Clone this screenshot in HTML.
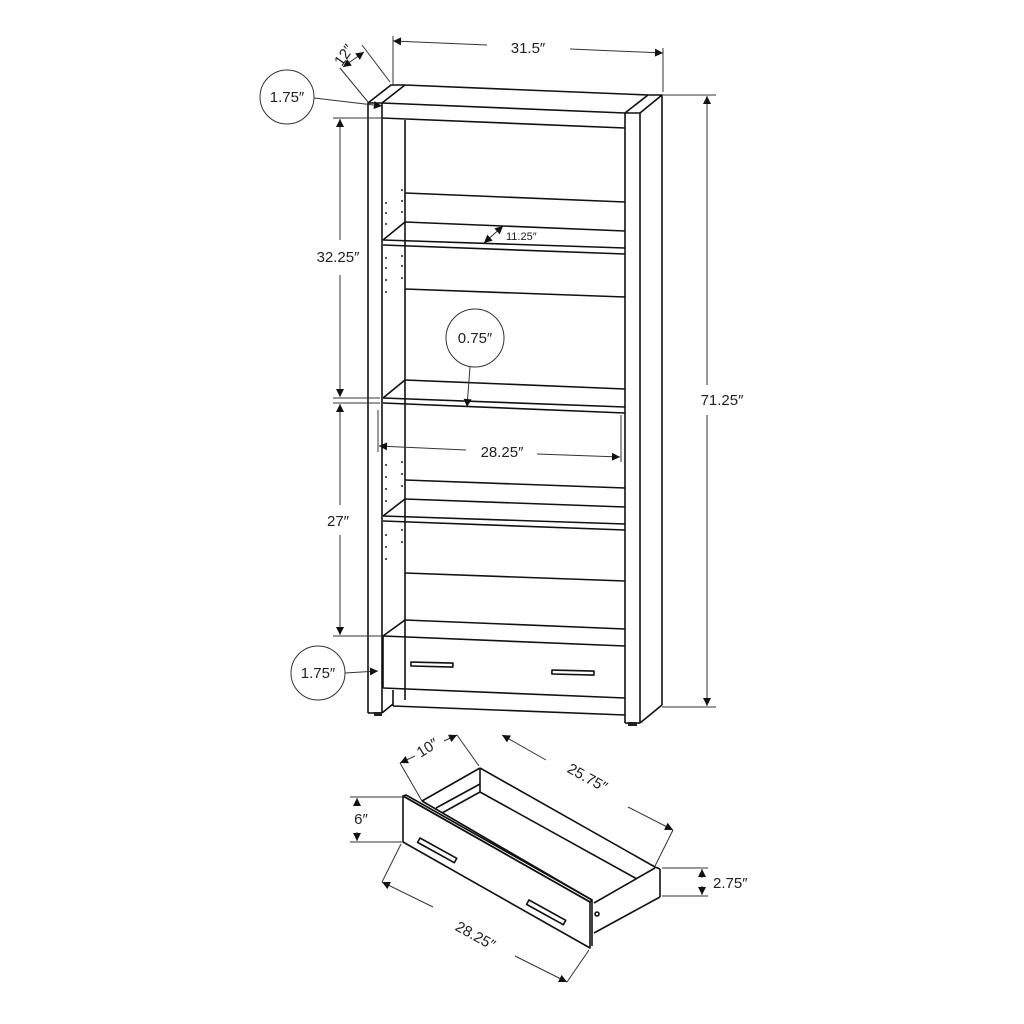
<!DOCTYPE html>
<html><head><meta charset="utf-8"><style>
html,body{margin:0;padding:0;background:#fff;}
svg{display:block;}
text{font-family:"Liberation Sans",sans-serif;fill:#222;}
</style></head><body>
<svg width="1024" height="1024" viewBox="0 0 1024 1024" xmlns="http://www.w3.org/2000/svg">
<defs>
<marker id="a" viewBox="0 0 10 10" refX="10" refY="5" markerWidth="10" markerHeight="8" orient="auto-start-reverse" markerUnits="userSpaceOnUse"><path d="M0,0 L10,5 L0,10 z" fill="#111"/></marker>
</defs>
<g fill="none" stroke="#111" stroke-width="1.6" stroke-linejoin="round">
<!-- left panel -->
<polygon points="368,103 391,85 405,85 382,103" />
<line x1="368" y1="103" x2="368" y2="713"/>
<line x1="382" y1="103" x2="382" y2="713"/>
<line x1="368" y1="713" x2="382" y2="713"/>
<line x1="393" y1="704" x2="382" y2="713"/>
<!-- top -->
<line x1="405" y1="85" x2="648" y2="95"/>
<line x1="382" y1="103" x2="625" y2="113"/>
<line x1="382" y1="118" x2="625" y2="128"/>
<line x1="405" y1="120" x2="405" y2="700"/>
<!-- right panel -->
<polygon points="625,113 648,95 662,95 640,113"/>
<line x1="625" y1="113" x2="625" y2="723"/>
<line x1="640" y1="113" x2="640" y2="723"/>
<line x1="662" y1="95" x2="662" y2="705"/>
<line x1="625" y1="723" x2="640" y2="723"/>
<line x1="640" y1="723" x2="662" y2="705"/>
<!-- shelf 1 -->
<line x1="405" y1="193" x2="625" y2="202"/>
<line x1="405" y1="222" x2="625" y2="231"/>
<line x1="405" y1="222" x2="383" y2="240"/>
<line x1="383" y1="240" x2="625" y2="248"/>
<line x1="383" y1="245" x2="625" y2="254"/>
<!-- shelf 2 -->
<line x1="405" y1="289" x2="625" y2="297"/>
<line x1="405" y1="380" x2="625" y2="389"/>
<line x1="405" y1="380" x2="383" y2="398"/>
<line x1="383" y1="398" x2="625" y2="407"/>
<line x1="383" y1="403" x2="625" y2="413"/>
<!-- shelf 3 -->
<line x1="405" y1="480" x2="625" y2="488"/>
<line x1="405" y1="499" x2="625" y2="507"/>
<line x1="405" y1="499" x2="383" y2="516"/>
<line x1="383" y1="516" x2="625" y2="524"/>
<line x1="383" y1="521" x2="625" y2="530"/>
<line x1="405" y1="573" x2="625" y2="581"/>
<!-- bottom shelf / drawer -->
<line x1="405" y1="620" x2="625" y2="629"/>
<line x1="405" y1="620" x2="383" y2="636"/>
<line x1="383" y1="636" x2="625" y2="646"/>
<line x1="383" y1="636" x2="383" y2="688"/>
<line x1="383" y1="688" x2="625" y2="698"/>
<line x1="393" y1="690" x2="393" y2="706"/>
<line x1="393" y1="706" x2="625" y2="715"/>
<rect x="411" y="662" width="42" height="4" transform="rotate(1.5 411 662)"/>
<rect x="552" y="670" width="42" height="4" transform="rotate(1.5 552 670)"/>
<!-- drawer -->
<polygon points="403,796 406,795 592,900 590,902"/>
<polygon points="403,796 590,902 590,948 403,842"/>
<line x1="592" y1="900" x2="592" y2="946"/>
<line x1="422" y1="801" x2="480" y2="768"/>
<line x1="480" y1="768" x2="655" y2="867"/>
<line x1="436" y1="808" x2="480" y2="784"/>
<line x1="480" y1="768" x2="480" y2="792"/>
<line x1="480" y1="792" x2="637" y2="879"/>
<line x1="442" y1="813" x2="480" y2="792"/>
<line x1="422" y1="801" x2="592" y2="900"/>
<line x1="594" y1="903" x2="655" y2="868"/>
<line x1="655" y1="867" x2="660" y2="869"/>
<line x1="660" y1="869" x2="660" y2="897"/>
<line x1="594" y1="933" x2="660" y2="897"/>
<rect x="420" y="838" width="42" height="5" transform="rotate(29 420 838)"/>
<rect x="529" y="900" width="42" height="5" transform="rotate(29 529 900)"/>
<circle cx="597" cy="914" r="2"/>
</g>
<!-- peg holes -->
<g fill="#222">
<circle cx="402" cy="190" r="1"/><circle cx="402" cy="201" r="1"/><circle cx="402" cy="212" r="1"/>
<circle cx="386" cy="203" r="1"/><circle cx="386" cy="213" r="1"/><circle cx="386" cy="224" r="1"/>
<circle cx="402" cy="256" r="1"/><circle cx="402" cy="266" r="1"/><circle cx="402" cy="278" r="1"/>
<circle cx="386" cy="258" r="1"/><circle cx="386" cy="268" r="1"/><circle cx="386" cy="280" r="1"/><circle cx="386" cy="292" r="1"/>
<circle cx="402" cy="462" r="1"/><circle cx="402" cy="474" r="1"/><circle cx="402" cy="486" r="1"/>
<circle cx="386" cy="465" r="1"/><circle cx="386" cy="477" r="1"/><circle cx="386" cy="489" r="1"/><circle cx="386" cy="501" r="1"/>
<circle cx="402" cy="530" r="1"/><circle cx="402" cy="542" r="1"/><circle cx="386" cy="535" r="1"/><circle cx="386" cy="547" r="1"/><circle cx="386" cy="559" r="1"/>
<rect x="374" y="712" width="8" height="4"/><rect x="628" y="722" width="9" height="4"/>
</g>
<!-- dimensions -->
<g fill="none" stroke="#333" stroke-width="1">
<line x1="393" y1="36" x2="393" y2="86"/>
<line x1="663" y1="48" x2="663" y2="92"/>
<line x1="393" y1="41" x2="487" y2="45" marker-start="url(#a)"/>
<line x1="570" y1="49" x2="663" y2="53" marker-end="url(#a)"/>
<line x1="340" y1="68" x2="368" y2="102"/>
<line x1="362" y1="45" x2="390" y2="82"/>
<line x1="343" y1="67" x2="364" y2="52" marker-start="url(#a)" marker-end="url(#a)"/>
<line x1="662" y1="95" x2="716" y2="95"/>
<line x1="662" y1="707" x2="716" y2="707"/>
<line x1="707" y1="96" x2="707" y2="385" marker-start="url(#a)"/>
<line x1="707" y1="415" x2="707" y2="706" marker-end="url(#a)"/>
<line x1="333" y1="118" x2="382" y2="118"/>
<line x1="333" y1="398" x2="380" y2="398"/>
<line x1="333" y1="403" x2="380" y2="403"/>
<line x1="333" y1="636" x2="382" y2="636"/>
<line x1="340" y1="119" x2="340" y2="240" marker-start="url(#a)"/>
<line x1="340" y1="275" x2="340" y2="397" marker-end="url(#a)"/>
<line x1="340" y1="404" x2="340" y2="505" marker-start="url(#a)"/>
<line x1="340" y1="535" x2="340" y2="635" marker-end="url(#a)"/>
<line x1="378" y1="410" x2="378" y2="452"/>
<line x1="621" y1="415" x2="621" y2="462"/>
<line x1="379" y1="446" x2="466" y2="450" marker-start="url(#a)"/>
<line x1="537" y1="454" x2="620" y2="457" marker-end="url(#a)"/>
<line x1="484" y1="243" x2="503" y2="226" marker-start="url(#a)" marker-end="url(#a)"/>
<circle cx="287" cy="97" r="27"/>
<line x1="314" y1="98" x2="382" y2="106" marker-end="url(#a)"/>
<circle cx="475" cy="338" r="29"/>
<line x1="470" y1="367" x2="467" y2="407" marker-end="url(#a)"/>
<circle cx="318" cy="673" r="27"/>
<line x1="345" y1="673" x2="378" y2="671" marker-end="url(#a)"/>
<!-- drawer dims -->
<line x1="400" y1="763" x2="422" y2="801"/>
<line x1="457" y1="735" x2="479" y2="766"/>
<line x1="400" y1="763" x2="415" y2="756" marker-start="url(#a)"/>
<line x1="444" y1="741" x2="457" y2="735" marker-end="url(#a)"/>
<line x1="502" y1="735" x2="546" y2="760" marker-start="url(#a)"/>
<line x1="628" y1="807" x2="673" y2="830" marker-end="url(#a)"/>
<line x1="673" y1="830" x2="655" y2="866"/>
<line x1="382" y1="882" x2="433" y2="907" marker-start="url(#a)"/>
<line x1="515" y1="956" x2="567" y2="982" marker-end="url(#a)"/>
<line x1="382" y1="882" x2="401" y2="844"/>
<line x1="567" y1="982" x2="589" y2="950"/>
<line x1="350" y1="797" x2="402" y2="797"/>
<line x1="350" y1="842" x2="402" y2="842"/>
<line x1="357" y1="798" x2="357" y2="806" marker-start="url(#a)"/>
<line x1="357" y1="832" x2="357" y2="841" marker-end="url(#a)"/>
<line x1="662" y1="868" x2="708" y2="868"/>
<line x1="662" y1="896" x2="708" y2="896"/>
<line x1="702" y1="869" x2="702" y2="878" marker-start="url(#a)"/>
<line x1="702" y1="886" x2="702" y2="895" marker-end="url(#a)"/>
</g>
<g font-size="15">
<text x="528" y="53" text-anchor="middle">31.5″</text>
<text x="338" y="262" text-anchor="middle">32.25″</text>
<text x="338" y="526" text-anchor="middle">27″</text>
<text x="722" y="405" text-anchor="middle">71.25″</text>
<text x="502" y="457" text-anchor="middle">28.25″</text>
<text x="287" y="102" text-anchor="middle">1.75″</text>
<text x="475" y="343" text-anchor="middle">0.75″</text>
<text x="318" y="678" text-anchor="middle">1.75″</text>
<text x="506" y="240" font-size="11">11.25″</text>
<text x="713" y="888">2.75″</text>
<text x="361" y="824" text-anchor="middle">6″</text>
<text transform="translate(348,58) rotate(-55)" text-anchor="middle">12″</text>
<text transform="translate(430,752) rotate(-32)" text-anchor="middle">10″</text>
<text transform="translate(585,782) rotate(29)" text-anchor="middle">25.75″</text>
<text transform="translate(473,940) rotate(29)" text-anchor="middle">28.25″</text>
</g>
</svg>
</body></html>
